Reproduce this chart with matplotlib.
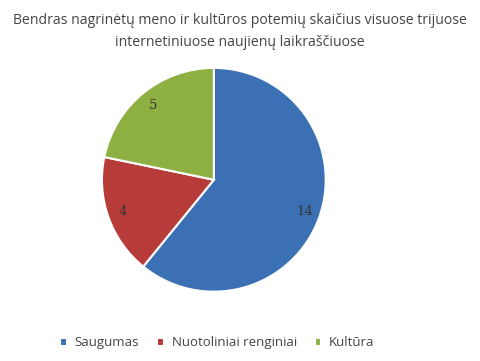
import matplotlib
matplotlib.use('Agg')
from matplotlib import pyplot as plt

labels = ['Saugumas', 'Nuotoliniai renginiai', 'Kultūra']
values = [14, 4, 5]
colors = ['#3B70B4', '#B73B38', '#8EB043']
title = 'Bendras nagrinėtų meno ir kultūros potemių skaičius visuose trijuose\ninternetiniuose naujienų laikraščiuose'

fig = plt.figure(figsize=(4.8, 3.61), dpi=100)
ax = fig.add_axes([0.21, 0.189, 0.471, 0.626])

wedges, texts, autotexts = ax.pie(values, colors=colors, startangle=90, counterclock=False,
                                  autopct=lambda p: '%d' % round(p * sum(values) / 100),
                                  pctdistance=0.86,
                                  wedgeprops=dict(edgecolor='white', linewidth=1.5))
for t in autotexts:
    t.set_fontfamily('DejaVu Serif')
    t.set_fontsize(9.5)
    t.set_color('#333333')
ax.set_xlim(-1.01, 1.01)
ax.set_ylim(-1.01, 1.01)
ax.set_aspect('equal')

fig.text(0.5, 0.965, title, ha='center', va='top', fontsize=10.1,
         fontfamily='Open Sans', color='#444444', linespacing=1.65)

leg = fig.legend(wedges, labels, loc='center', bbox_to_anchor=(0.453, 0.05), ncol=3,
                 frameon=False, handlelength=0.5, handleheight=0.5, handletextpad=0.6,
                 columnspacing=1.35, prop={'family': 'Open Sans', 'size': 9.5})
for t in leg.get_texts():
    t.set_color('#444444')

fig.savefig('out.png', dpi=100)
